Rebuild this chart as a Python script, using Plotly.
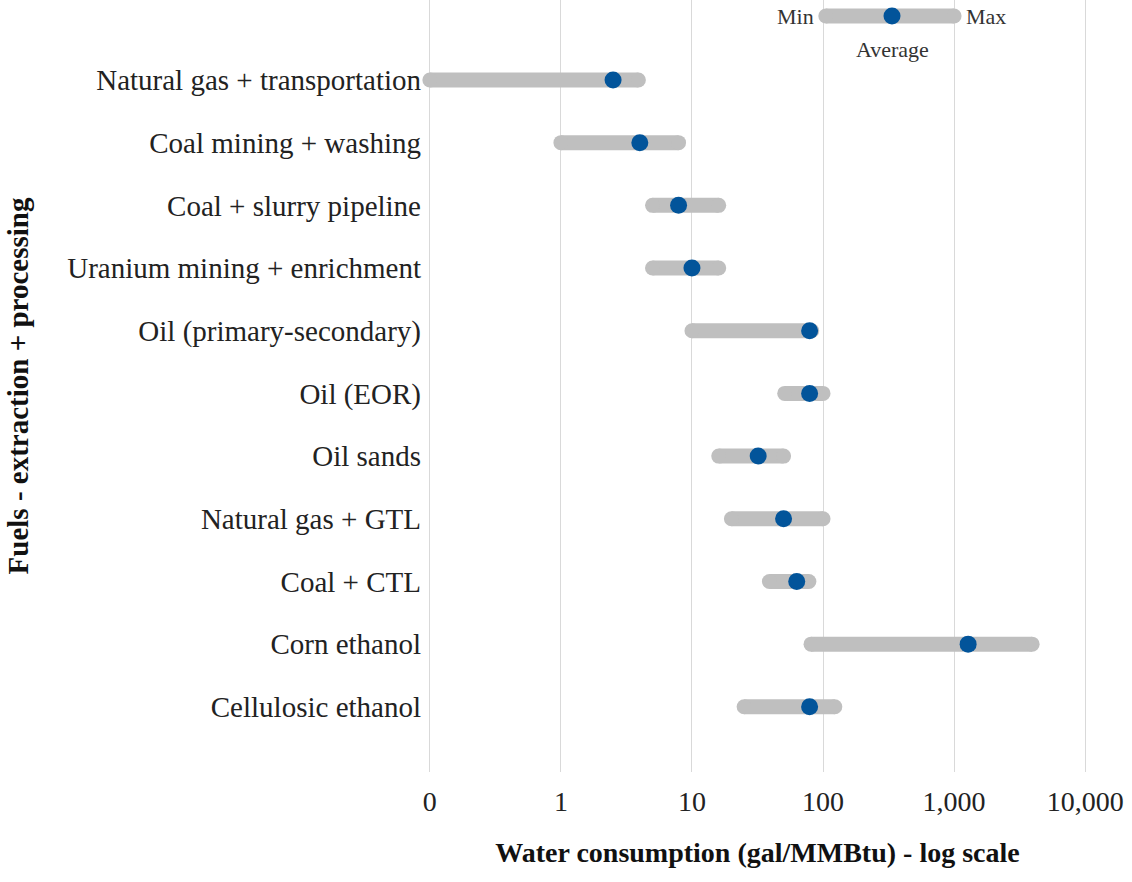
import math
import plotly.graph_objects as go

categories = [
    "Natural gas + transportation",
    "Coal mining + washing",
    "Coal + slurry pipeline",
    "Uranium mining + enrichment",
    "Oil (primary-secondary)",
    "Oil (EOR)",
    "Oil sands",
    "Natural gas + GTL",
    "Coal + CTL",
    "Corn ethanol",
    "Cellulosic ethanol",
]
min_vals = [0.1, 1.0, 5.0, 5.0, 10, 51, 16, 20, 39, 81, 25]
max_vals = [3.9, 7.9, 16, 16, 82, 100, 50, 100, 78, 3940, 123]
avg_vals = [2.5, 4.0, 7.9, 10, 79, 79, 32, 50, 63, 1280, 79]

tick_vals = [0.1, 1, 10, 100, 1000, 10000]
tick_text = ["0", "1", "10", "100", "1,000", "10,000"]

# key (legend) sample
key_min, key_avg, key_max = 105, 336, 1000
key_row = -1.02

GRAY = "#BFBFBF"
BLUE = "#02549A"
FONT = "Liberation Serif, Times New Roman, serif"

rows = list(range(len(categories)))

bx, by = [], []
for i in rows:
    bx += [min_vals[i], max_vals[i], None]
    by += [i, i, None]
bx += [key_min, key_max, None]
by += [key_row, key_row, None]

fig = go.Figure()
fig.add_trace(go.Scatter(
    x=bx, y=by, mode="lines+markers",
    line=dict(color=GRAY, width=15),
    marker=dict(color=GRAY, size=15, symbol="circle"),
    cliponaxis=False, hoverinfo="skip", showlegend=False,
))
fig.add_trace(go.Scatter(
    x=avg_vals + [key_avg], y=rows + [key_row], mode="markers",
    marker=dict(color=BLUE, size=17, symbol="circle"),
    cliponaxis=False, showlegend=False,
))

key_font = dict(family=FONT, size=22, color="#333333")
fig.add_annotation(x=math.log10(key_min), y=key_row, xref="x", yref="y", text="Min",
                   showarrow=False, xanchor="right", xshift=-10, font=key_font)
fig.add_annotation(x=math.log10(key_max), y=key_row, xref="x", yref="y", text="Max",
                   showarrow=False, xanchor="left", xshift=10, font=key_font)
fig.add_annotation(x=math.log10(key_avg), y=key_row, xref="x", yref="y", text="Average",
                   showarrow=False, xanchor="center", yshift=-33, font=key_font)

fig.update_xaxes(
    type="log", range=[-1.06, 4.06],
    tickvals=tick_vals, ticktext=tick_text,
    showgrid=True, gridcolor="#D9D9D9", gridwidth=1,
    zeroline=False, showline=False,
    ticks="outside", ticklen=4, tickcolor="rgba(0,0,0,0)",
    tickfont=dict(family=FONT, size=28, color="#222222"),
    title=dict(text="<b>Water consumption (gal/MMBtu) - log scale</b>",
               font=dict(family=FONT, size=28, color="#111111"), standoff=26),
)
fig.update_yaxes(
    range=[11.04, -1.276],
    tickvals=rows, ticktext=categories,
    showgrid=False, zeroline=False, showline=False,
    ticks="",
    tickfont=dict(family=FONT, size=29, color="#222222"),
    title=dict(text="<b>Fuels - extraction + processing</b>",
               font=dict(family=FONT, size=29, color="#111111"), standoff=30),
)
fig.update_layout(
    width=1132, height=882,
    margin=dict(l=422, r=39, t=0, b=110, autoexpand=False),
    plot_bgcolor="white", paper_bgcolor="white",
)
fig.write_html("out.html", config={"displayModeBar": False},
               post_script="document.body.style.margin='0';")
